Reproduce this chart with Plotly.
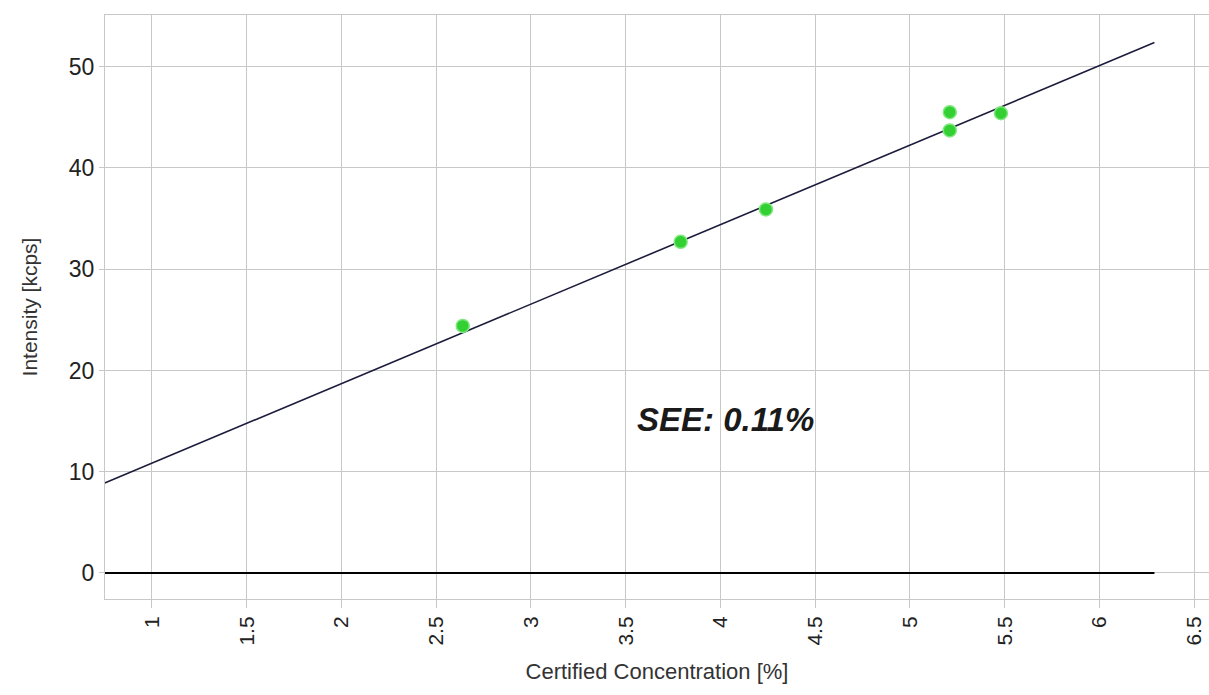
import numpy as np
import plotly.graph_objects as go

# Data
conc = [2.64, 3.79, 4.24, 5.21, 5.21, 5.48]          # Certified Concentration [%]
intensity = [24.4, 32.7, 35.9, 45.5, 43.7, 45.4]      # Intensity [kcps]

fit_slope = 7.85
fit_intercept = 3.0
fit_x = [0.75, 6.29]
fit_y = [fit_intercept + fit_slope * v for v in fit_x]

zero_x = [0.75, 6.29]
zero_y = [0, 0]

x_ticks = [1, 1.5, 2, 2.5, 3, 3.5, 4, 4.5, 5, 5.5, 6, 6.5]
x_tick_labels = ["1", "1.5", "2", "2.5", "3", "3.5", "4", "4.5", "5", "5.5", "6", "6.5"]
y_ticks = [0, 10, 20, 30, 40, 50]
y_tick_labels = ["0", "10", "20", "30", "40", "50"]

FONT = "Liberation Sans, Arial, sans-serif"
GRID = "#c8c8c8"

fig = go.Figure()

fig.add_trace(go.Scatter(x=zero_x, y=zero_y, mode="lines",
                         line=dict(color="#000000", width=2), hoverinfo="skip",
                         showlegend=False))
fig.add_trace(go.Scatter(x=fit_x, y=fit_y, mode="lines",
                         line=dict(color="#1c1c3c", width=1.6), showlegend=False))
fig.add_trace(go.Scatter(x=conc, y=intensity, mode="markers",
                         marker=dict(color="#33d033", size=13, symbol="circle",
                                     line=dict(color="#7ee87e", width=1.5)),
                         showlegend=False))

fig.add_annotation(x=3.55, y=15.2, xref="x", yref="y", xanchor="left", yanchor="middle",
                   text="<b><i>SEE: 0.11%</i></b>", showarrow=False,
                   font=dict(family=FONT, size=33, color="#1a1a1a"))

fig.update_xaxes(range=[0.752, 6.578], tickvals=x_ticks, ticktext=x_tick_labels,
                 tickangle=-90, tickfont=dict(family=FONT, size=21, color="#222222"),
                 showgrid=True, gridcolor=GRID, gridwidth=1,
                 showline=True, linecolor=GRID, linewidth=1, mirror=True,
                 ticks="outside", ticklen=8, tickcolor=GRID, zeroline=False,
                 automargin=False,
                 title=dict(text="Certified Concentration [%]",
                            font=dict(family=FONT, size=22, color="#333333"), standoff=18))
fig.update_yaxes(range=[-2.57, 55.1], tickvals=y_ticks, ticktext=y_tick_labels,
                 tickfont=dict(family=FONT, size=23, color="#222222"),
                 showgrid=True, gridcolor=GRID, gridwidth=1,
                 showline=True, linecolor=GRID, linewidth=1,
                 ticks="outside", ticklen=5, tickcolor=GRID, zeroline=False,
                 automargin=False,
                 title=dict(text="Intensity [kcps]",
                            font=dict(family=FONT, size=21, color="#333333"), standoff=25))

fig.update_layout(width=1209, height=695, paper_bgcolor="white", plot_bgcolor="white",
                  margin=dict(l=105, r=0, t=15, b=96), showlegend=False)

fig.write_html("out.html", config={"displayModeBar": False},
               post_script="document.body.style.margin='0';document.body.style.overflow='hidden';")
